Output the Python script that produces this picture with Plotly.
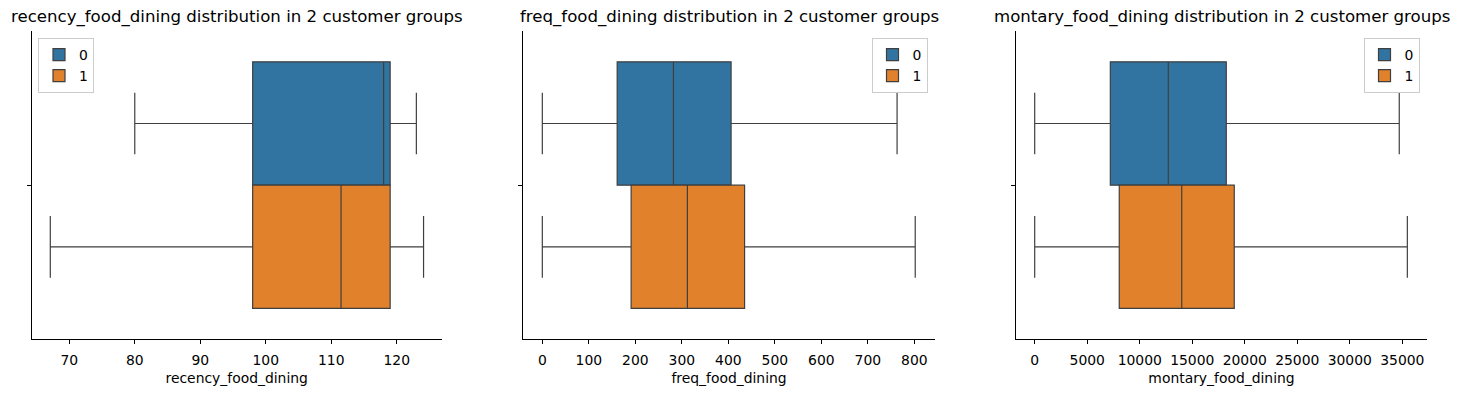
import plotly.graph_objects as go

groups = ["0", "1"]
colors = ["#3274a1", "#e1812c"]

variables = ["recency_food_dining", "freq_food_dining", "montary_food_dining"]

recency_lower = [80.0, 67.1]
recency_q1 = [98.0, 98.0]
recency_median = [118.0, 111.5]
recency_q3 = [119.0, 119.0]
recency_upper = [123.0, 124.1]

freq_lower = [0.0, 0.0]
freq_q1 = [161.0, 191.0]
freq_median = [282.0, 312.0]
freq_q3 = [406.0, 435.0]
freq_upper = [763.0, 802.0]

montary_lower = [0.0, 0.0]
montary_q1 = [7200.0, 8050.0]
montary_median = [12720.0, 14000.0]
montary_q3 = [18240.0, 19000.0]
montary_upper = [34710.0, 35480.0]

stats = [
    (recency_lower, recency_q1, recency_median, recency_q3, recency_upper),
    (freq_lower, freq_q1, freq_median, freq_q3, freq_upper),
    (montary_lower, montary_q1, montary_median, montary_q3, montary_upper),
]

# page has an 8px body margin; figure pixel = window pixel - OFF
OFF = 8
W, H = 1459 - OFF, 395 - OFF
x_px = [(31.7, 441.7), (523.3, 934.7), (1016.3, 1426.7)]
y_top, y_bot = 31.0, 339.3
x_ranges = [[64.26, 126.87], [-40.9, 843.9], [-1752, 37323]]
dticks = [10, 100, 5000]
legend_pos = [("left", 38), ("right", 927.5), ("right", 1419.5)]

FONT = "DejaVu Sans"
fig = go.Figure()

for p in range(3):
    lo, q1, med, q3, hi = stats[p]
    xa = "x" if p == 0 else f"x{p+1}"
    ya = "y" if p == 0 else f"y{p+1}"
    lg = "legend" if p == 0 else f"legend{p+1}"
    for g in range(2):
        fig.add_trace(go.Box(
            y=["all"], q1=[q1[g]], median=[med[g]], q3=[q3[g]],
            lowerfence=[lo[g]], upperfence=[hi[g]],
            orientation="h", name=groups[g], legendgroup=f"{p}_{g}",
            alignmentgroup=f"p{p}", offsetgroup=f"g{g}",
            fillcolor=colors[g], line=dict(color="#3f3f3f", width=1.2),
            whiskerwidth=0.5, boxpoints=False, xaxis=xa, yaxis=ya,
            legend=lg, hoverinfo="skip",
        ))

layout = dict(
    width=W, height=H, margin=dict(l=0, r=0, t=0, b=0),
    paper_bgcolor="white", plot_bgcolor="white",
    boxmode="group", boxgap=0.2, boxgroupgap=0.0,
    font=dict(family=FONT, size=13.9, color="black"),
    showlegend=True,
)

annotations = []
for p in range(3):
    sfx = "" if p == 0 else str(p + 1)
    x0, x1 = x_px[p][0] - OFF, x_px[p][1] - OFF
    layout["xaxis" + sfx] = dict(
        domain=[x0 / W, x1 / W], range=x_ranges[p], dtick=dticks[p], tick0=0,
        tickformat="d", ticklabelstandoff=4,
        showline=True, linecolor="black", linewidth=1, mirror=False,
        ticks="outside", ticklen=4, tickwidth=1, tickcolor="black",
        showgrid=False, zeroline=False, anchor="y" + sfx,
        tickfont=dict(family=FONT, size=13.9, color="black"),
        title=dict(text=variables[p], standoff=6, font=dict(family=FONT, size=13.9, color="black")),
    )
    layout["yaxis" + sfx] = dict(
        domain=[1 - (y_bot - OFF) / H, 1 - (y_top - OFF) / H], range=[0.5, -0.5],
        type="category", showline=True, linecolor="black", linewidth=1,
        ticks="outside", ticklen=4, tickwidth=1, tickcolor="black",
        showticklabels=False, showgrid=False, zeroline=False, anchor="x" + sfx,
    )
    annotations.append(dict(
        text=f"{variables[p]} distribution in 2 customer groups",
        x=(x0 + x1) / 2 / W, y=1 - (17 - OFF) / H, xref="paper", yref="paper",
        xanchor="center", yanchor="middle", showarrow=False,
        font=dict(family=FONT, size=16.6, color="black"),
    ))
    side, lx = legend_pos[p]
    layout["legend" if p == 0 else f"legend{p+1}"] = dict(
        x=(lx - OFF) / W, y=1 - (38 - OFF) / H, xanchor=side, yanchor="top",
        xref="paper", yref="paper",
        bgcolor="rgba(255,255,255,0.8)", bordercolor="#cccccc", borderwidth=1,
        font=dict(family=FONT, size=13.9, color="black"),
        tracegroupgap=0, itemwidth=30,
    )

layout["annotations"] = annotations
fig.update_layout(**layout)
fig.write_html("out.html")
